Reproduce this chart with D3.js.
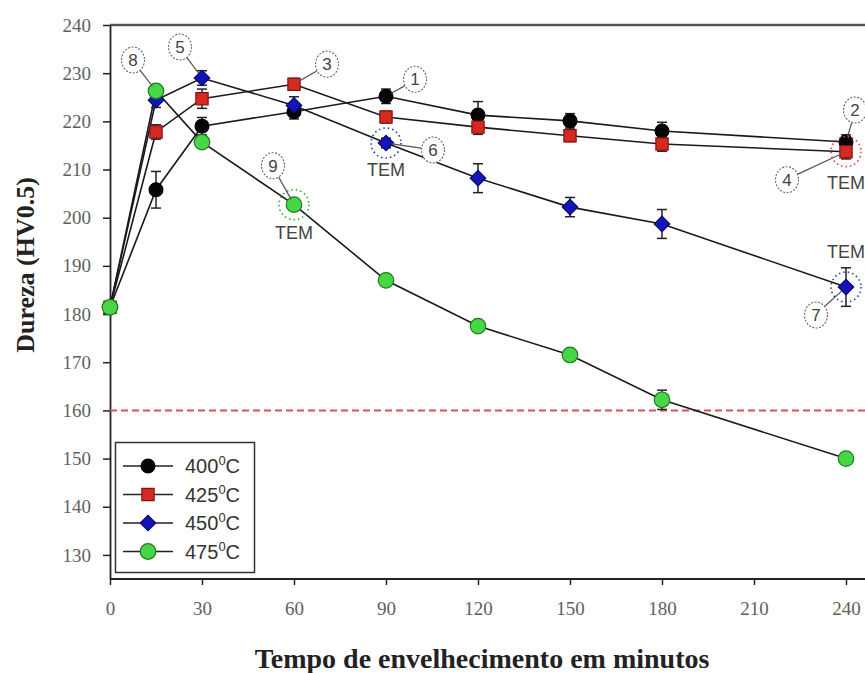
<!DOCTYPE html>
<html>
<head>
<meta charset="utf-8">
<script src="https://cdn.jsdelivr.net/npm/d3@7"></script>
<style>
  body { margin: 0; background: #fff; }
  svg { display: block; }
</style>
</head>
<body>
<div id="graph"></div>
<script>
// aging time (min) and hardness per temperature
var times = [0, 15, 30, 60, 90, 120, 150, 180, 240]

var h400 = [181.4, 205.8, 219, 222, 225.2, 221.3, 220.1, 218, 215.7]
var e400 = [1, 3.8, 1.8, 1.5, 1.5, 2.8, 1.5, 1.8, 1.5]
var h425 = [181.4, 217.8, 224.7, 227.7, 220.9, 218.8, 217, 215.3, 213.7]
var e425 = [1, 1.5, 2, 1.2, 1.2, 1.5, 1.2, 1.5, 1.5]
var h450 = [181.5, 224.4, 229, 223.3, 215.5, 208.2, 202.2, 198.7, 185.6]
var e450 = [1, 1.5, 1.5, 1.8, 1, 3, 2, 3, 4]
var h475 = [181.4, 226.3, 215.7, 202.7, 187, 177.5, 171.5, 162.2, 150]
var e475 = [1, 1, 1, 1, 1, 1, 1, 2, 1]

var seriesNames = ['400', '425', '450', '475']
var xTicks = [0, 30, 60, 90, 120, 150, 180, 210, 240]
var yTicks = [130, 140, 150, 160, 170, 180, 190, 200, 210, 220, 230, 240]
var limitValue = 160

var series = [
  {vals: h400, err: e400, shape: d3.symbolCircle, rot: 0, fill: '#050505', stroke: '#000', size: 150},
  {vals: h425, err: e425, shape: d3.symbolSquare, rot: 0, fill: '#d42a22', stroke: '#8a1010', size: 150},
  {vals: h450, err: e450, shape: d3.symbolSquare, rot: 45, fill: '#1414b8', stroke: '#0a0a70', size: 120},
  {vals: h475, err: e475, shape: d3.symbolCircle, rot: 0, fill: '#46d646', stroke: '#1f7a1f', size: 190}
]

// numbered callouts: series index, time, label offset
var callouts = [
  {n: '8', s: 3, t: 15, dx: -23, dy: -31},
  {n: '5', s: 2, t: 30, dx: -22, dy: -31},
  {n: '3', s: 1, t: 60, dx: 33, dy: -20},
  {n: '1', s: 0, t: 90, dx: 29, dy: -17},
  {n: '6', s: 2, t: 90, dx: 47, dy: 7},
  {n: '9', s: 3, t: 60, dx: -21, dy: -39},
  {n: '2', s: 0, t: 240, dx: 9, dy: -32},
  {n: '4', s: 1, t: 240, dx: -59, dy: 28},
  {n: '7', s: 2, t: 240, dx: -30, dy: 28}
]
var temMarks = [
  {s: 2, t: 90, dy: 27, color: '#1a3cc0'},
  {s: 3, t: 60, dy: 28, color: '#2bb02b'},
  {s: 1, t: 240, dy: 31, color: '#e04040'},
  {s: 2, t: 240, dy: -35, color: '#2040c0'}
]

var width = 865, height = 673
var svg = d3.select('#graph').append('svg').attr('width', width).attr('height', height)

var x = d3.scaleLinear().domain([0, 240]).range([110, 846])
var y = d3.scaleLinear().domain([125, 240]).range([579, 25])

var serif = '"Liberation Serif", "Times New Roman", serif'
var sans = '"Liberation Sans", Arial, sans-serif'

// frame top
svg.append('line').attr('x1', 110).attr('x2', width).attr('y1', y(240)).attr('y2', y(240))
  .attr('stroke', '#555').attr('stroke-width', 2.5)

// axes
var yAxis = svg.append('g').attr('transform', 'translate(110,0)')
  .call(d3.axisLeft(y).tickValues(yTicks).tickSize(7).tickPadding(12).tickSizeOuter(0))
var xAxis = svg.append('g').attr('transform', 'translate(0,' + y(125) + ')')
  .call(d3.axisBottom(x).tickValues(xTicks).tickSize(6).tickPadding(17).tickSizeOuter(0))
xAxis.select('.domain').attr('d', 'M110,0H' + width)
;[yAxis, xAxis].forEach(function(a){
  a.select('.domain').attr('stroke', '#222').attr('stroke-width', 1.8)
  a.selectAll('.tick line').attr('stroke', '#222').attr('stroke-width', 1.5)
  a.selectAll('.tick text').attr('font-family', serif).attr('font-size', 19).attr('fill', '#5f5f5f')
})

// limit line
svg.append('line').attr('x1', 110).attr('x2', width).attr('y1', y(limitValue)).attr('y2', y(limitValue))
  .attr('stroke', '#d8505a').attr('stroke-width', 2).attr('stroke-dasharray', '7,4')

// axis titles
svg.append('text').attr('transform', 'translate(34,265) rotate(-90)')
  .attr('text-anchor', 'middle').attr('font-family', serif).attr('font-weight', 'bold')
  .attr('font-size', 26).attr('fill', '#222').text('Dureza (HV0.5)')
svg.append('text').attr('x', 482).attr('y', 668)
  .attr('text-anchor', 'middle').attr('font-family', serif).attr('font-weight', 'bold')
  .attr('font-size', 28).attr('fill', '#222').text('Tempo de envelhecimento em minutos')

// lines
var line = d3.line().x(function(d){ return x(d[0]) }).y(function(d){ return y(d[1]) })
series.forEach(function(s){
  svg.append('path').attr('d', line(times.map(function(t, i){ return [t, s.vals[i]] })))
    .attr('fill', 'none').attr('stroke', '#1a1a1a').attr('stroke-width', 1.6)
})

// error bars
series.forEach(function(s){
  var g = svg.append('g')
  times.forEach(function(t, i){
    var cx = x(t), y0 = y(s.vals[i] - s.err[i]), y1 = y(s.vals[i] + s.err[i])
    g.append('line').attr('x1', cx).attr('x2', cx).attr('y1', y0).attr('y2', y1).attr('stroke', '#222').attr('stroke-width', 1.5)
    g.append('line').attr('x1', cx - 5).attr('x2', cx + 5).attr('y1', y0).attr('y2', y0).attr('stroke', '#222').attr('stroke-width', 1.5)
    g.append('line').attr('x1', cx - 5).attr('x2', cx + 5).attr('y1', y1).attr('y2', y1).attr('stroke', '#222').attr('stroke-width', 1.5)
  })
})

// markers
series.forEach(function(s){
  svg.append('g').selectAll('path').data(times).join('path')
    .attr('transform', function(t, i){ return 'translate(' + x(t) + ',' + y(s.vals[i]) + ') rotate(' + s.rot + ')' })
    .attr('d', d3.symbol().type(s.shape).size(s.size))
    .attr('fill', s.fill).attr('stroke', s.stroke).attr('stroke-width', 1.2)
})

// dotted TEM circles and labels
temMarks.forEach(function(m){
  var s = series[m.s], i = times.indexOf(m.t)
  var cx = x(m.t), cy = y(s.vals[i])
  svg.append('circle').attr('cx', cx).attr('cy', cy).attr('r', 15)
    .attr('fill', 'none').attr('stroke', m.color).attr('stroke-width', 1.6).attr('stroke-dasharray', '1.5,3')
  svg.append('text').attr('x', cx).attr('y', cy + m.dy).attr('dy', '0.35em')
    .attr('text-anchor', 'middle').attr('font-family', sans).attr('font-size', 18)
    .attr('fill', '#444').text('TEM')
})

// numbered callouts
callouts.forEach(function(c){
  var s = series[c.s], i = times.indexOf(c.t)
  var px = x(c.t), py = y(s.vals[i])
  var lx = px + c.dx, ly = py + c.dy
  var ang = Math.atan2(py - ly, px - lx)
  svg.append('line')
    .attr('x1', lx + Math.cos(ang) * 12).attr('y1', ly + Math.sin(ang) * 13)
    .attr('x2', px - Math.cos(ang) * 6).attr('y2', py - Math.sin(ang) * 6)
    .attr('stroke', '#555').attr('stroke-width', 1.2)
  svg.append('ellipse').attr('cx', lx).attr('cy', ly).attr('rx', 11.5).attr('ry', 13)
    .attr('fill', '#fff').attr('stroke', '#666').attr('stroke-width', 1.1).attr('stroke-dasharray', '2,1.5')
  svg.append('text').attr('x', lx).attr('y', ly).attr('dy', '0.36em')
    .attr('text-anchor', 'middle').attr('font-family', sans).attr('font-size', 17)
    .attr('fill', '#444').text(c.n)
})

// legend
var leg = svg.append('g')
leg.append('rect').attr('x', 115.5).attr('y', 442.5).attr('width', 139).attr('height', 130)
  .attr('fill', '#fff').attr('stroke', '#333').attr('stroke-width', 1.5)
series.forEach(function(s, k){
  var ly = 466 + k * 28.5
  leg.append('line').attr('x1', 123).attr('x2', 173).attr('y1', ly).attr('y2', ly)
    .attr('stroke', '#222').attr('stroke-width', 1.6)
  leg.append('path').attr('transform', 'translate(148,' + ly + ') rotate(' + s.rot + ')')
    .attr('d', d3.symbol().type(s.shape).size(s.size))
    .attr('fill', s.fill).attr('stroke', s.stroke).attr('stroke-width', 1.2)
  var t = leg.append('text').attr('x', 185).attr('y', ly + 7)
    .attr('font-family', sans).attr('font-size', 20).attr('fill', '#333')
  t.append('tspan').text(seriesNames[k])
  t.append('tspan').attr('font-size', 13).attr('dy', -8).text('0')
  t.append('tspan').attr('dy', 8).text('C')
})
</script>
</body>
</html>
